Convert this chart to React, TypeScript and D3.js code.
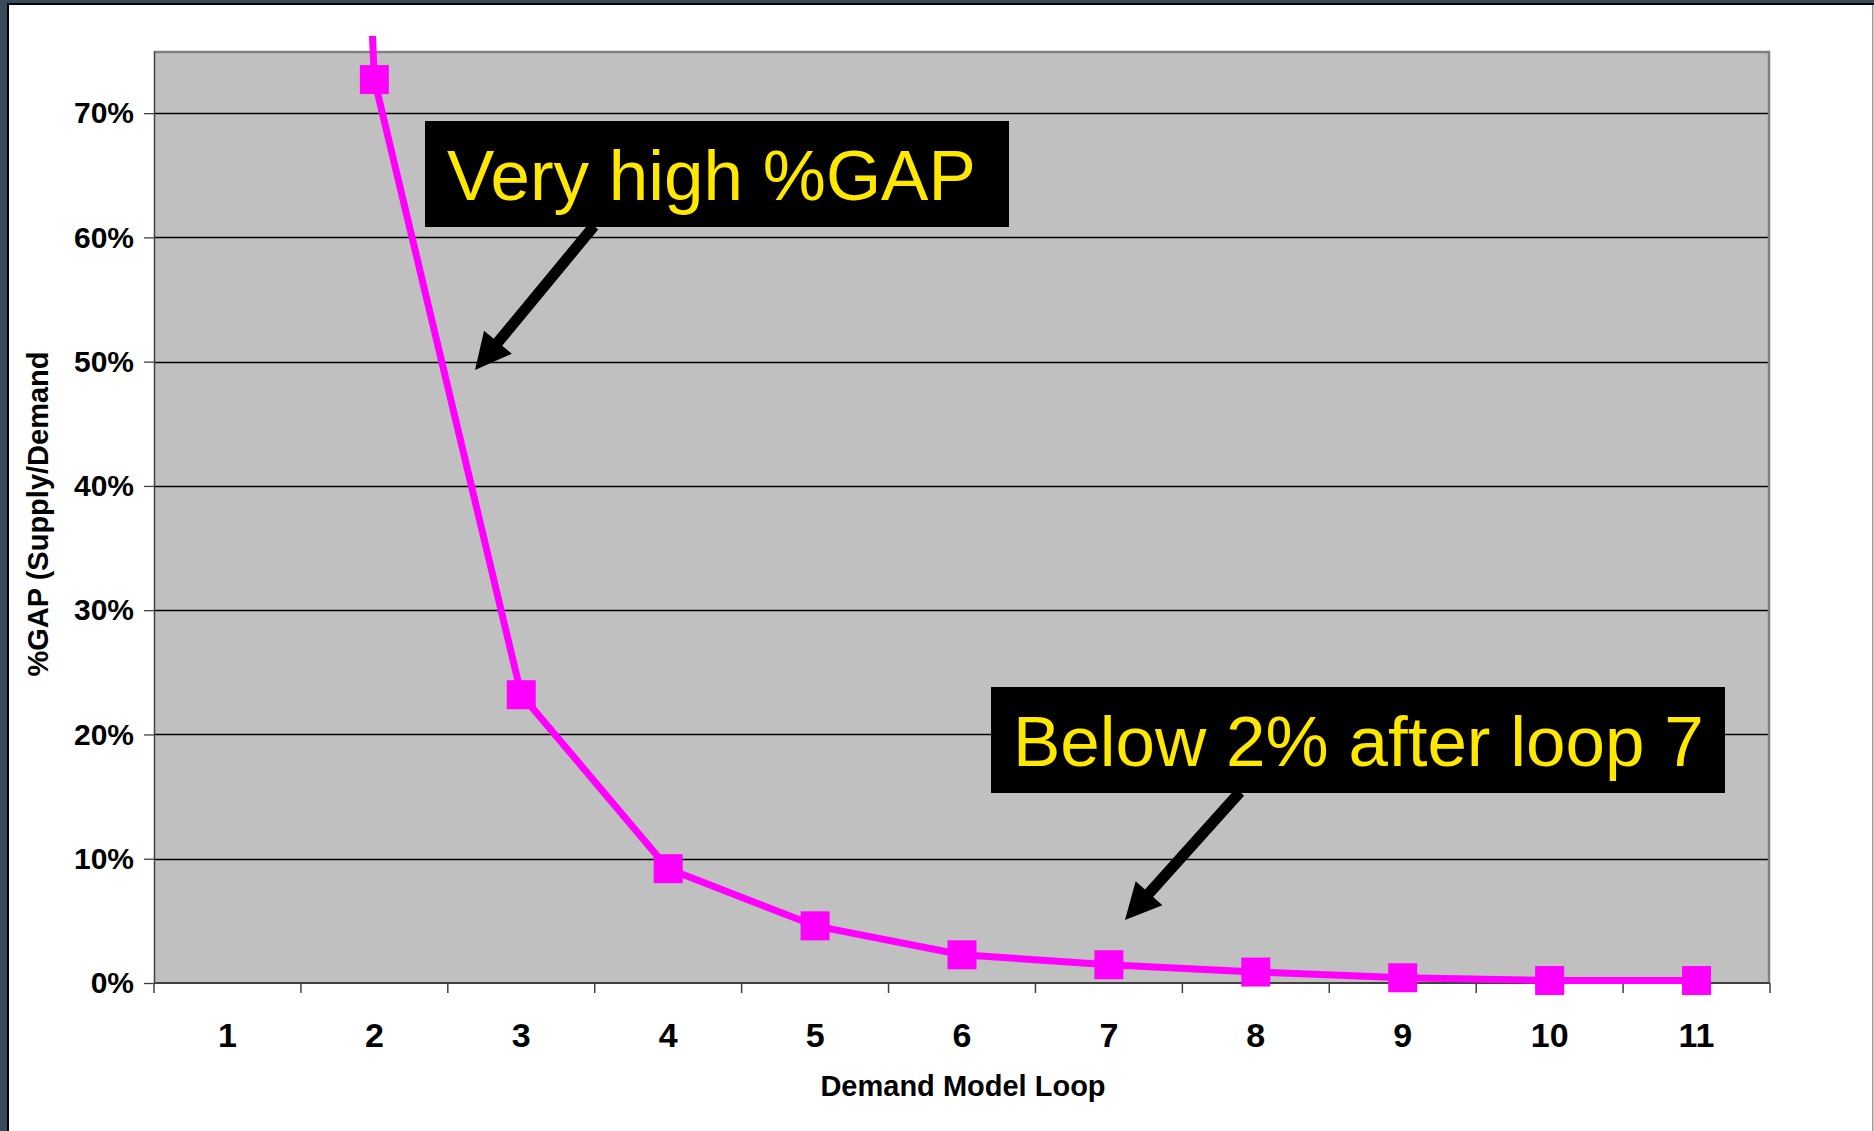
import React, { useEffect, useRef } from 'react';
import * as d3 from 'd3';

// demand model loops on the x axis
const loops = ['1', '2', '3', '4', '5', '6', '7', '8', '9', '10', '11'];
// %GAP (supply/demand) per loop, loop 1 runs far off the top of the chart
const gapValues = [3.5, 0.727, 0.232, 0.092, 0.046, 0.0227, 0.0147, 0.0088, 0.0042, 0.002, 0.002];
const yTicks = [0, 0.1, 0.2, 0.3, 0.4, 0.5, 0.6, 0.7];

const notes = [
  { text: 'Very high %GAP', box: [425, 121, 1009, 227], from: [594, 226], to: [475, 370] },
  { text: 'Below 2% after loop 7', box: [991, 687, 1725, 793], from: [1240, 792], to: [1125, 920] },
];

const W = 1874;
const H = 1131;
const FONT = 'Arial, "Liberation Sans", sans-serif';
const MAGENTA = '#ff00ff';

function arrowPath(x1: number, y1: number, x2: number, y2: number, shaftW: number, headL: number, headW: number) {
  const dx = x2 - x1;
  const dy = y2 - y1;
  const len = Math.sqrt(dx * dx + dy * dy);
  const ux = dx / len;
  const uy = dy / len;
  const nx = -uy;
  const ny = ux;
  const bx = x2 - ux * headL;
  const by = y2 - uy * headL;
  const p = [
    [x1 + nx * shaftW / 2, y1 + ny * shaftW / 2],
    [bx + nx * shaftW / 2, by + ny * shaftW / 2],
    [bx + nx * headW / 2, by + ny * headW / 2],
    [x2, y2],
    [bx - nx * headW / 2, by - ny * headW / 2],
    [bx - nx * shaftW / 2, by - ny * shaftW / 2],
    [x1 - nx * shaftW / 2, y1 - ny * shaftW / 2],
  ];
  return 'M' + p.map(d => d.join(',')).join('L') + 'Z';
}

export default function App() {
  const svgRef = useRef<SVGSVGElement>(null);

  useEffect(() => {
    if (!svgRef.current) return;
    const svg = d3.select(svgRef.current);
    svg.selectAll('*').remove();

    const left = 154;
    const right = 1770;
    const top = 51;
    const bottom = 983;

    const x = d3.scaleBand<string>().domain(loops).range([left, right]);
    const y = d3.scaleLinear().domain([0, 0.75]).range([bottom, top]);

    // page frame
    svg.append('rect').attr('width', W).attr('height', H).attr('fill', '#ffffff');
    svg.append('rect').attr('x', 0).attr('y', 0).attr('width', W).attr('height', 3).attr('fill', '#394a5a');
    svg.append('rect').attr('x', 0).attr('y', 0).attr('width', 7).attr('height', H).attr('fill', '#394a5a');
    svg.append('rect').attr('x', 7).attr('y', 3).attr('width', W).attr('height', 2).attr('fill', '#000');
    svg.append('rect').attr('x', 7).attr('y', 3).attr('width', 2).attr('height', H).attr('fill', '#000');
    svg.append('rect').attr('x', W - 2).attr('y', 5).attr('width', 1.5).attr('height', H).attr('fill', '#999');

    const defs = svg.append('defs');
    defs.append('clipPath').attr('id', 'line-clip')
      .append('rect').attr('x', 0).attr('y', 36).attr('width', W).attr('height', H);

    // plot area
    svg.append('rect')
      .attr('x', left).attr('y', top)
      .attr('width', right - left).attr('height', bottom - top)
      .attr('fill', '#c0c0c0');

    // gridlines
    svg.append('g')
      .selectAll('line')
      .data(yTicks.slice(1))
      .join('line')
      .attr('x1', left).attr('x2', right)
      .attr('y1', d => Math.round(y(d)) + 0.5).attr('y2', d => Math.round(y(d)) + 0.5)
      .attr('stroke', '#000').attr('stroke-width', 1.3);

    // plot border top / right
    svg.append('path')
      .attr('d', `M${left},${top + 1}H${right - 1}V${bottom}`)
      .attr('fill', 'none').attr('stroke', '#808080').attr('stroke-width', 2.5);

    // y axis
    const yAxis = svg.append('g')
      .attr('transform', `translate(${left},0)`)
      .call(d3.axisLeft(y).tickValues(yTicks).tickSize(10).tickSizeOuter(0).tickPadding(10)
        .tickFormat(d => `${Math.round((d as number) * 100)}%`));
    yAxis.select('.domain').attr('stroke', '#404040').attr('stroke-width', 1.5);
    yAxis.selectAll('.tick line').attr('stroke', '#404040').attr('stroke-width', 1.3);
    yAxis.selectAll('.tick text')
      .attr('font-family', FONT).attr('font-size', 30).attr('font-weight', 'bold').attr('fill', '#000');

    // x axis with ticks between categories
    const xg = svg.append('g').attr('transform', `translate(0,${bottom})`);
    xg.append('line').attr('x1', left).attr('x2', right).attr('y1', 0).attr('y2', 0)
      .attr('stroke', '#404040').attr('stroke-width', 2);
    const bounds = loops.map(l => x(l) as number).concat([right]);
    xg.selectAll('line.tk')
      .data(bounds)
      .join('line')
      .attr('class', 'tk')
      .attr('x1', d => d).attr('x2', d => d)
      .attr('y1', 0).attr('y2', 10)
      .attr('stroke', '#404040').attr('stroke-width', 1.5);
    xg.selectAll('text')
      .data(loops)
      .join('text')
      .attr('x', d => (x(d) as number) + x.bandwidth() / 2)
      .attr('y', 64)
      .attr('text-anchor', 'middle')
      .attr('font-family', FONT).attr('font-size', 34).attr('font-weight', 'bold')
      .text(d => d);

    // axis titles
    svg.append('text')
      .attr('transform', 'translate(48,514) rotate(-90)')
      .attr('text-anchor', 'middle')
      .attr('font-family', FONT).attr('font-size', 29).attr('font-weight', 'bold')
      .text('%GAP (Supply/Demand');
    svg.append('text')
      .attr('x', 963).attr('y', 1096)
      .attr('text-anchor', 'middle')
      .attr('font-family', FONT).attr('font-size', 29).attr('font-weight', 'bold')
      .text('Demand Model Loop');

    // series
    const cx = (i: number) => (x(loops[i]) as number) + x.bandwidth() / 2;
    const line = d3.line<number>().x((_, i) => cx(i)).y(d => y(d));
    svg.append('path')
      .datum(gapValues)
      .attr('clip-path', 'url(#line-clip)')
      .attr('d', line)
      .attr('fill', 'none')
      .attr('stroke', MAGENTA)
      .attr('stroke-width', 7)
      .attr('stroke-linejoin', 'round');

    const ms = 29;
    svg.append('g')
      .selectAll('rect')
      .data(gapValues.map((v, i) => ({ v, i })).filter(d => d.v <= 0.75))
      .join('rect')
      .attr('x', d => cx(d.i) - ms / 2)
      .attr('y', d => y(d.v) - ms / 2)
      .attr('width', ms).attr('height', ms)
      .attr('fill', MAGENTA);

    // annotations
    notes.forEach(n => {
      const [x0, y0, x1, y1] = n.box;
      svg.append('path')
        .attr('d', arrowPath(n.from[0], n.from[1], n.to[0], n.to[1], 11, 36, 36))
        .attr('fill', '#000');
      svg.append('rect')
        .attr('x', x0).attr('y', y0).attr('width', x1 - x0).attr('height', y1 - y0)
        .attr('fill', '#000');
      svg.append('text')
        .attr('x', x0 + 22).attr('y', y0 + 79)
        .attr('font-family', FONT).attr('font-size', 71)
        .attr('fill', '#ffe800')
        .text(n.text);
    });
  }, []);

  return (
    <div style={{ position: 'absolute', left: 0, top: 0, width: W, height: H }}>
      <svg ref={svgRef} width={W} height={H} style={{ display: 'block' }} />
    </div>
  );
}
